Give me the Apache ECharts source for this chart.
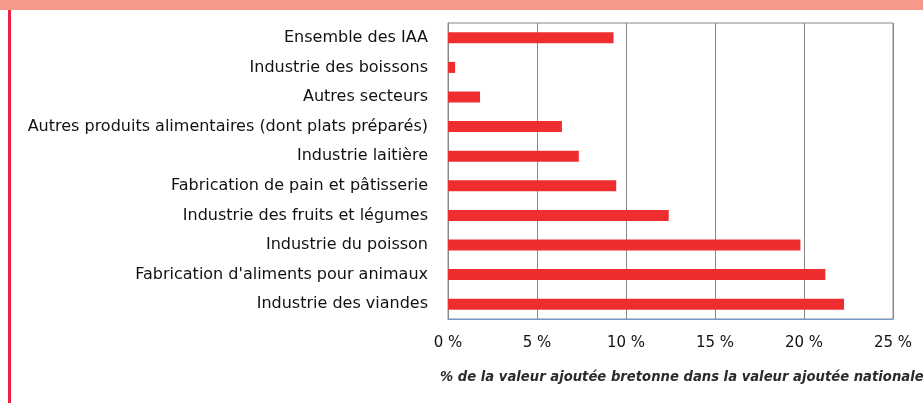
<!DOCTYPE html>
<html>
<head>
<meta charset="utf-8">
<script src="https://cdn.jsdelivr.net/npm/echarts@6/dist/echarts.min.js"></script>
<style>
  html, body { margin: 0; padding: 0; background: #fff; }
  #chart { width: 923px; height: 403px; }
</style>
</head>
<body>
<div id="chart"></div>
<script>
// secteurs, du haut vers le bas
const secteurs = [
  'Ensemble des IAA',
  'Industrie des boissons',
  'Autres secteurs',
  'Autres produits alimentaires (dont plats préparés)',
  'Industrie laitière',
  'Fabrication de pain et pâtisserie',
  'Industrie des fruits et légumes',
  'Industrie du poisson',
  "Fabrication d'aliments pour animaux",
  'Industrie des viandes',
];
// part de la VA bretonne dans la VA nationale (%)
const parts = [9.3, 0.4, 1.8, 6.4, 7.35, 9.45, 12.4, 19.8, 21.2, 22.25];
const axisTitle = '% de la valeur ajoutée bretonne dans la valeur ajoutée nationale';

const chart = echarts.init(document.getElementById('chart'));

const option = {
  animation: false,
  title: {
    text: axisTitle,
    left: 435,
    top: 366,
    textStyle: {
      fontFamily: '"DejaVu Sans"',
      fontSize: 13.2,
      fontStyle: 'italic',
      fontWeight: 'bold',
      color: '#2b2b2b',
    },
  },
  graphic: [
    // bandeau du haut
    { type: 'rect', left: 0, top: 0, shape: { width: 923, height: 10 }, style: { fill: '#f5998b' } },
    // filet rouge a gauche
    { type: 'rect', left: 8, top: 10, shape: { width: 3, height: 393 }, style: { fill: '#ec2340' } },
  ],
  grid: {
    left: 448,
    right: 30,
    top: 23,
    bottom: 84,
    show: true,
    borderColor: '#888',
    borderWidth: 1,
  },
  xAxis: {
    type: 'value',
    min: 0,
    max: 25,
    interval: 5,
    axisLine: { show: true, lineStyle: { color: '#6f9cd2', width: 1 } },
    axisTick: { show: false },
    axisLabel: {
      formatter: '{value} %',
      margin: 17,
      fontFamily: '"DejaVu Sans"',
      fontSize: 15,
      color: '#111',
    },
    splitLine: { show: true, lineStyle: { color: '#888', width: 1 } },
  },
  yAxis: {
    type: 'category',
    data: secteurs,
    inverse: true,
    axisLine: { show: true, lineStyle: { color: '#888' } },
    axisTick: { show: false },
    axisLabel: {
      margin: 20,
      fontFamily: '"DejaVu Sans"',
      fontSize: 16,
      color: '#111',
    },
  },
  series: [
    {
      type: 'bar',
      data: parts,
      barWidth: 11,
      itemStyle: { color: '#ee2e2e' },
    },
  ],
};

chart.setOption(option);
</script>
</body>
</html>
